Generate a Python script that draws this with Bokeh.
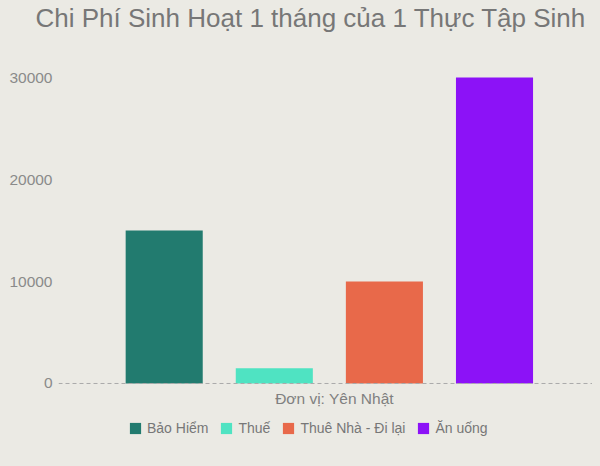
from bokeh.plotting import figure
from bokeh.models import (ColumnDataSource, Range1d, FixedTicker, NumeralTickFormatter,
                          Legend, LegendItem, Span, Label)
from bokeh.embed import file_html
from bokeh.resources import INLINE

categories = ["Bảo Hiểm", "Thuế", "Thuê Nhà - Đi lại", "Ăn uống"]
values = [15000, 1500, 10000, 30000]
colors = ["#227b6f", "#4fe3c2", "#e8694a", "#8c12f7"]
y_ticks = [0, 10000, 20000, 30000]
unit_label = "Đơn vị: Yên Nhật"

BG = "#ebeae4"
FONT = "Liberation Sans"

xs = list(range(len(categories)))
src = ColumnDataSource(dict(x=xs, top=values, color=colors, cat=categories))

p = figure(frame_width=534, frame_height=426, output_backend="svg", toolbar_location=None,
           x_range=Range1d(-0.96, 3.89), y_range=Range1d(-7353, 34412),
           x_axis_location=None,
           title="Chi Phí Sinh Hoạt 1 tháng của 1 Thực Tập Sinh",
           min_border_left=58, min_border_right=0, min_border_top=0, min_border_bottom=0)

p.background_fill_color = BG
p.border_fill_color = BG
p.outline_line_color = None
p.grid.visible = False

p.title.text_font = FONT
p.title.text_font_size = "26px"
p.title.text_font_style = "normal"
p.title.text_color = "#777777"
p.title.offset = -23
p.title.standoff = 0

r = p.vbar(x="x", top="top", width=0.7, bottom=0, fill_color="color", line_color=None, source=src)

# baseline (value axis zero line)
p.add_layout(Span(location=0, dimension="width", line_color="#aaaaaa",
                  line_dash="4 3", line_width=1))

# unit label under the baseline
p.add_layout(Label(x=276, y=0, x_units="screen", y_units="data", y_offset=-15,
                   text=unit_label, text_align="center", text_baseline="middle",
                   text_font=FONT, text_font_size="15.5px", text_color="#808080"))

# y axis
p.yaxis.ticker = FixedTicker(ticks=y_ticks)
p.yaxis.formatter = NumeralTickFormatter(format="0")
p.yaxis.axis_line_color = None
p.yaxis.major_tick_line_color = None
p.yaxis.minor_tick_line_color = None
p.yaxis.major_tick_out = 0
p.yaxis.major_label_standoff = 6
p.yaxis.major_label_text_font = FONT
p.yaxis.major_label_text_font_size = "15.5px"
p.yaxis.major_label_text_color = "#8a8a8a"

items = [LegendItem(label=c, renderers=[r], index=i) for i, c in enumerate(categories)]
legend = Legend(items=items, orientation="horizontal", location=(70, 22),
                glyph_width=14, glyph_height=14, label_standoff=5, spacing=11,
                padding=5, margin=0, border_line_color=None,
                background_fill_alpha=0,
                label_text_font=FONT, label_text_font_size="14px",
                label_text_color="#777777")
p.add_layout(legend, "center")

html = file_html(p, INLINE)
html = html.replace("<body>", '<body style="background:%s">' % BG)
open("out.html", "w").write(html)
